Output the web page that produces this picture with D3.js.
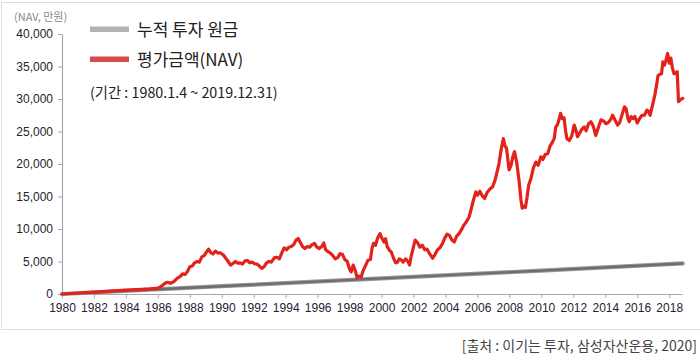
<!DOCTYPE html>
<html><head><meta charset="utf-8">
<script src="https://cdn.jsdelivr.net/npm/d3@7"></script>
<style>
html,body{margin:0;padding:0;background:#fff;}
svg{display:block;font-family:"Noto Sans CJK KR","Noto Sans",sans-serif;}
</style></head><body>
<svg id="c" width="700" height="355"></svg>
<script>
// ---- data ----
const principalYears = [1980, 1990, 2000, 2010, 2018.85];
const principalValues = [0, 1200, 2400, 3600, 4700];

const navYears = [1980,1981,1982,1983,1984,1985,1985.5,1986,
1986.2,1986.45,1986.6,1986.8,1987.0,1987.2,1987.4,1987.55,1987.7,1987.85,1988.0,1988.15,1988.3,1988.45,1988.6,1988.75,1988.9,
1989.05,1989.17,1989.3,1989.45,1989.6,1989.75,1989.9,1990.1,1990.25,1990.4,1990.55,1990.7,1990.85,1991.0,1991.15,1991.3,1991.45,1991.6,1991.75,1991.9,
1992.05,1992.2,1992.35,1992.5,1992.65,1992.8,1992.95,1993.1,1993.3,1993.45,1993.6,1993.75,1993.9,1994.05,1994.2,1994.35,1994.5,1994.65,1994.78,1994.9,
1995.05,1995.2,1995.35,1995.5,1995.65,1995.8,1995.95,1996.1,1996.25,1996.38,1996.5,1996.65,1996.8,1996.95,1997.1,1997.25,1997.4,1997.55,1997.7,1997.85,
1998.0,1998.1,1998.22,1998.35,1998.47,1998.6,1998.72,1998.85,1999.0,1999.15,1999.3,1999.4,1999.5,1999.62,1999.75,1999.9,
2000.0,2000.15,2000.25,2000.35,2000.5,2000.6,2000.75,2000.88,2001.0,2001.1,2001.2,2001.35,2001.5,2001.62,2001.75,2001.85,
2002.0,2002.1,2002.25,2002.4,2002.55,2002.7,2002.85,2003.0,2003.2,2003.35,2003.5,2003.65,2003.8,2003.95,
2004.1,2004.25,2004.4,2004.55,2004.7,2004.85,2005.0,2005.15,2005.3,2005.47,2005.6,2005.7,2005.8,2005.9,
2006.0,2006.15,2006.3,2006.45,2006.6,2006.8,2006.95,2007.1,2007.25,2007.35,2007.5,2007.62,2007.72,2007.82,2007.92,2007.98,
2008.1,2008.22,2008.32,2008.45,2008.6,2008.72,2008.8,2008.9,2009.0,2009.1,2009.2,2009.35,2009.5,2009.65,2009.8,2009.97,
2010.1,2010.25,2010.4,2010.55,2010.7,2010.8,2010.9,2011.0,2011.1,2011.2,2011.3,2011.42,2011.52,2011.6,2011.75,2011.9,
2012.05,2012.15,2012.26,2012.4,2012.55,2012.68,2012.8,2012.95,2013.1,2013.25,2013.4,2013.55,2013.73,2013.9,
2014.04,2014.2,2014.35,2014.46,2014.6,2014.77,2014.9,2015.05,2015.2,2015.3,2015.42,2015.5,2015.62,2015.75,2015.85,
2016.0,2016.15,2016.3,2016.45,2016.6,2016.7,2016.8,2016.95,2017.1,2017.2,2017.3,2017.42,2017.52,2017.6,2017.7,2017.8,2017.9,
2018.0,2018.1,2018.2,2018.3,2018.42,2018.5,2018.58,2018.7,2018.85];

const navValues = [0,150,300,430,600,720,790,900,
1150,1650,1800,1650,1900,2400,2700,3100,3000,3450,4200,4300,4800,5000,4900,5700,5900,
6500,6900,6400,6150,6600,6300,6350,6000,5500,5000,4450,4700,5000,4750,4800,4600,5100,5150,4800,4900,
4650,4600,4300,3950,4200,4800,5000,4900,5600,5650,5400,6300,7100,6800,7200,7300,7600,8300,8550,8000,
7300,7000,7300,7200,7600,7800,7200,7000,7300,7850,6800,6500,6300,5900,5400,5600,6200,6100,5300,5000,
3800,3400,4450,3600,2500,2750,2600,3600,4400,5200,5300,7000,7800,7500,8600,9300,
8700,8000,8500,7300,6700,6500,5500,4800,4900,5400,5300,4900,5400,5100,4450,5800,
7300,8300,7900,7200,7500,6800,6900,6200,5500,6100,6800,7100,7700,8600,
9200,9000,8300,8000,8900,9300,9900,10600,11100,11800,13000,14000,14900,15700,
15200,15800,15100,14700,15600,16200,16500,17500,19000,20100,22500,23900,22800,22400,20300,19100,
19800,21200,21900,20300,17500,14500,13200,13500,13300,14800,16700,17800,19400,20300,19800,21100,
20700,21500,21600,22800,23400,23900,25700,26000,26800,27800,27000,27100,25000,23900,23600,24300,
26000,25300,24200,24800,25400,25700,25100,26200,26500,25800,24400,25500,26800,26600,
26200,26400,26900,27500,26800,26000,26400,27600,28800,28500,27000,26500,27300,27000,27300,
26300,27000,27500,27500,28300,28100,27500,29000,30600,32000,33600,33800,33900,35700,35200,36000,37000,
35500,36300,34800,33900,34000,34200,29600,29900,30100];

const yTicks = [0,5000,10000,15000,20000,25000,30000,35000,40000];
const xTicks = [1980,1982,1984,1986,1988,1990,1992,1994,1996,1998,2000,2002,2004,2006,2008,2010,2012,2014,2016,2018];

const legendLabels = ["누적 투자 원금", "평가금액(NAV)"];
const periodText = "(기간 : 1980.1.4 ~ 2019.12.31)";
const unitText = "(NAV, 만원)";
const sourceText = "[출처 : 이기는 투자, 삼성자산운용, 2020]";

// ---- drawing ----
const svg = d3.select("#c");
const x = d3.scaleLinear().domain([1980, 2018.8]).range([62, 682]);
const y = d3.scaleLinear().domain([0, 40000]).range([294, 34]);

svg.append("rect").attr("x",1.5).attr("y",2.5).attr("width",710).attr("height",327)
  .attr("fill","none").attr("stroke","#dcdcdc").attr("stroke-width",1);

const xAxis = svg.append("g").attr("transform","translate(0,294)")
  .call(d3.axisBottom(x).tickValues(xTicks).tickFormat(d3.format("d")).tickSize(4).tickSizeOuter(0).tickPadding(4));
const yAxis = svg.append("g").attr("transform","translate(62,0)")
  .call(d3.axisLeft(y).tickValues(yTicks).tickFormat(d3.format(",")).tickSize(4).tickSizeOuter(0).tickPadding(5));
[xAxis,yAxis].forEach(g=>{
  g.select(".domain").attr("stroke","#a8a8a8").attr("stroke-width",1.2);
  g.selectAll(".tick line").attr("stroke","#a8a8a8");
  g.selectAll(".tick text").attr("fill","#1f2233").style("font-size","12px")
    .style("font-family",'"Liberation Sans",Arial,sans-serif');
});
xAxis.selectAll(".tick text").attr("dy","0.85em");

const line = d3.line().x(d=>x(d[0])).y(d=>y(d[1]));
svg.append("path").datum(principalYears.map((d,i)=>[d,principalValues[i]]))
  .attr("d",line).attr("fill","none").attr("stroke","#9a9a9a").attr("stroke-width",4.2).attr("stroke-linecap","round");
svg.append("path").datum(principalYears.map((d,i)=>[d,principalValues[i]]))
  .attr("d",line).attr("fill","none").attr("stroke","#6e6e6e").attr("stroke-width",2.4);
svg.append("path").datum(navYears.map((d,i)=>[d,navValues[i]]))
  .attr("d",line).attr("fill","none").attr("stroke","#e2221b").attr("stroke-width",3.2)
  .attr("stroke-linejoin","round").attr("stroke-linecap","round");

// unit label
svg.append("text").attr("x",14).attr("y",21).attr("fill","#8a8a8a").style("font-size","11px").text(unitText);

// legend
const legColors = ["#b3b3b3","#d84b4b"];
legendLabels.forEach((t,i)=>{
  svg.append("rect").attr("x",90).attr("y",26.5+i*30).attr("width",39).attr("height",5.5).attr("fill",legColors[i]);
  svg.append("text").attr("x",137).attr("y",36+i*30).attr("fill","#222").style("font-size","17px").text(t);
});
svg.append("text").attr("x",90).attr("y",98).attr("fill","#222").style("font-size","14.3px").text(periodText);

// source
svg.append("text").attr("x",697).attr("y",351).attr("text-anchor","end").attr("fill","#444").style("font-size","14px").text(sourceText);
</script></body></html>
